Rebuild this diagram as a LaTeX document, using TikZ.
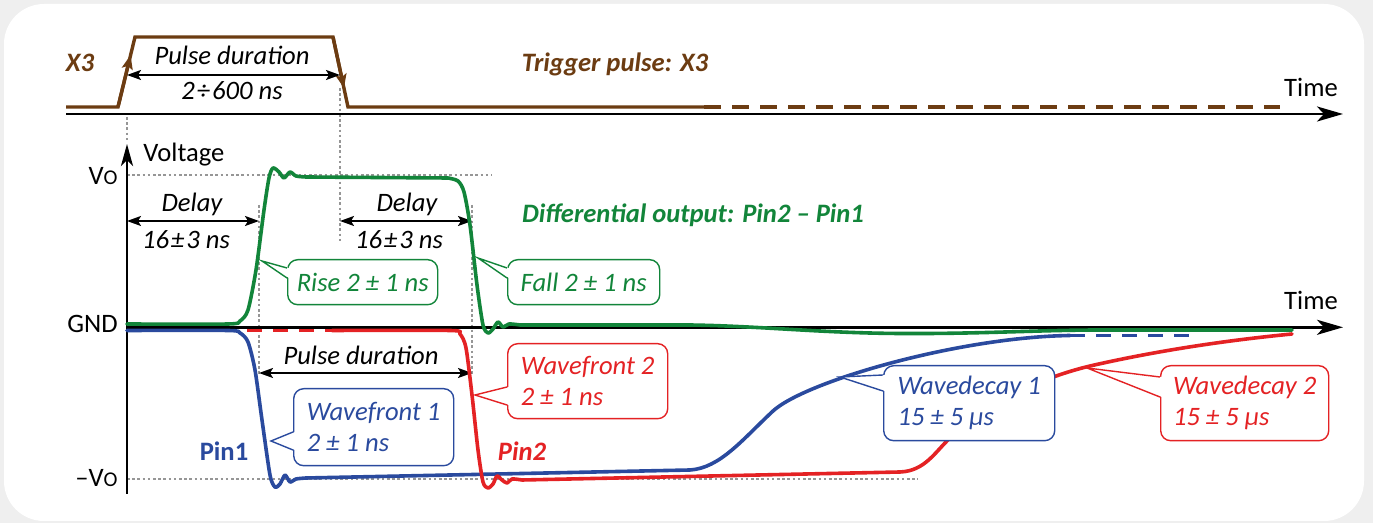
\documentclass[tikz,border=0pt]{standalone}
\usepackage{fontspec}
\setmainfont{Carlito}
\usetikzlibrary{arrows.meta,calc}

\definecolor{bggray}{RGB}{239,239,239}
\definecolor{trigbrown}{RGB}{108,60,18}
\definecolor{diffgreen}{RGB}{18,133,58}
\definecolor{pinred}{RGB}{228,34,36}
\definecolor{pinblue}{RGB}{42,74,158}
\definecolor{guidegray}{RGB}{150,150,150}

\tikzset{
  axisline/.style={line width=1.4pt},
  timeaxis/.style={axisline,-{Stealth[length=13pt,width=7.5pt,inset=3.5pt]}},
  voltaxis/.style={axisline,-{Stealth[length=11pt,width=6pt,inset=3pt]}},
  trace/.style={line width=1.8pt,line join=round,line cap=round},
  tracedash/.style={line width=1.8pt,dash pattern=on 7.5pt off 5.5pt},
  pulse/.style={trigbrown,line width=1.7pt,line join=miter},
  edgetip/.style={pulse,-{Stealth[length=7pt,width=5.5pt,inset=1.5pt]}},
  guide/.style={guidegray,line width=0.55pt,dash pattern=on 1.3pt off 1.3pt},
  dimarrow/.style={line width=0.9pt,{Stealth[length=7pt,width=5pt,inset=1.5pt]}-{Stealth[length=7pt,width=5pt,inset=1.5pt]}},
  axislbl/.style={font=\fontsize{13.3}{15}\selectfont,inner sep=0pt},
  dimlbl/.style={font=\fontsize{13.3}{15}\selectfont\itshape,inner sep=0pt,anchor=base},
  titlelbl/.style={font=\fontsize{13.3}{15}\selectfont\bfseries\itshape,inner sep=0pt,anchor=base},
  callbox/.style={fill=white,line width=0.7pt,rounded corners=5pt,anchor=north west,
    align=left,inner sep=0pt,font=\fontsize{13.3}{15.5}\selectfont\itshape},
  calltail/.style={line width=0.7pt,line join=miter},
}

\begin{document}
\begin{tikzpicture}[x=0.5pt,y=-0.5pt]
% background
\useasboundingbox (0,0) rectangle (1373,523);
\fill[bggray] (0,0) rectangle (1373,523);
\fill[white,rounded corners=20pt] (4,4) rectangle (1364,521);

% guide lines
\draw[guide] (127,117) -- (127,140);
\draw[guide] (340,88) -- (340,242);
\draw[guide] (259,205) -- (259,375);
\draw[guide] (472,205) -- (472,375);
\draw[guide] (127,175) -- (492,175);
\draw[guide] (127,479) -- (918,479);

% axes
\coordinate (taxisL) at (66,114);
\coordinate (taxisR) at (1343,114);
\coordinate (vaxisB) at (127,494);
\coordinate (vaxisT) at (127,144);
\coordinate (gaxisL) at (127,327.3);
\coordinate (gaxisR) at (1343,327.3);
\draw[timeaxis] (taxisL) -- (taxisR);
\draw[voltaxis] (vaxisB) -- (vaxisT);
\draw[timeaxis] (gaxisL) -- (gaxisR);

\node[axislbl,anchor=base] (time1) at (1311,97) {Time};
\node[axislbl,anchor=base] (time2) at (1311,310) {Time};
\node[axislbl,anchor=base west] (volt) at (143,162) {Voltage};
\node[axislbl,anchor=base east] (vo) at (118,185) {V{\fontsize{10.5}{10}\selectfont O}};
\node[axislbl,anchor=base east] (gnd) at (118,333) {GND};
\node[axislbl,anchor=base east] (minvo) at (118,487) {–V{\fontsize{10.5}{10}\selectfont O}};

% trigger pulse
\coordinate (trA) at (66,107);
\coordinate (trB) at (118,107);
\coordinate (trC) at (135,37);
\coordinate (trD) at (333,37);
\coordinate (trE) at (348,107);
\coordinate (trF) at (704,107);
\coordinate (trG) at (1280,107);
\draw[pulse] (trA) -- (trB) -- (trC) -- (trD) -- (trE) -- (trF);
\draw[pulse,dash pattern=on 8.5pt off 5.5pt] (trF) -- (trG);
\draw[edgetip] (trB) -- ($(trB)!0.74!(trC)$);
\draw[edgetip] (trD) -- ($(trD)!0.73!(trE)$);

\node[titlelbl,trigbrown] (x3) at (80,72) {X3};
\node[titlelbl,trigbrown] (trig) at (615,72) {Trigger pulse: X3};

% dimensions
\coordinate (pdL) at (127,75);
\coordinate (pdR) at (340,75);
\draw[dimarrow] (pdL) -- (pdR);
\node[dimlbl] (pd) at (232,65) {Pulse duration};
\node[dimlbl] (pdval) at (232,100) {2\kern1pt÷\kern1pt600 ns};

\coordinate (dl1L) at (127,221);
\coordinate (dl1R) at (259,221);
\draw[dimarrow] (dl1L) -- (dl1R);
\node[dimlbl] (dl1) at (192,212) {Delay};
\node[dimlbl] (dl1val) at (186,249) {16\kern1pt±\kern1pt3 ns};

\coordinate (dl2L) at (340,221);
\coordinate (dl2R) at (472,221);
\draw[dimarrow] (dl2L) -- (dl2R);
\node[dimlbl] (dl2) at (407,212) {Delay};
\node[dimlbl] (dl2val) at (399,249) {16\kern1pt±\kern1pt3 ns};

\coordinate (pwL) at (259,373);
\coordinate (pwR) at (472,373);
\draw[dimarrow] (pwL) -- (pwR);
\node[dimlbl] (pw) at (361,365) {Pulse duration};

% Pin1
\draw[trace,pinblue] plot[smooth,tension=0.45] coordinates {(127,330.5) (228,330.5) (240,333) (248,342)
  (255,370) (262,420) (270,475) (275,487) (280,484) (285,475) (290,482) (296,479) (306,478)}
  -- (690,470) .. controls (720,468) and (742,440) .. (773,411)
  .. controls (806,381) and (960,337) .. (1070,335.5);
\draw[tracedash,pinblue] (1070,335.5) -- (1197,335.5);

% Pin2
\draw[tracedash,pinred] (247,330.5) -- (332,330.5);
\draw[trace,pinred] plot[smooth,tension=0.45] coordinates {(332,330.5) (450,330.5) (460,334) (466,348)
  (472,395) (478,450) (483,482) (488,488) (493,484) (497,476) (502,480) (507,483) (512,479) (522,480)}
  -- (900,472) .. controls (925,471) and (935,452) .. (950,438)
  .. controls (990,402) and (1040,378) .. (1090,366)
  .. controls (1160,350) and (1230,340) .. (1292,334);

% differential output
\draw[trace,diffgreen] plot[smooth,tension=0.45] coordinates {(127,324) (228,324) (240,321) (248,310)
  (256,270) (264,210) (269,178) (273,168) (279,172) (284,178) (290,172) (296,176) (306,177)}
  -- plot[smooth,tension=0.45] coordinates {(448,178) (458,181) (464,192) (470,225) (477,285) (483,325)
  (488,333) (493,329) (498,322) (503,327) (509,324) (520,325)}
  -- (690,325) .. controls (760,326) and (820,333) .. (900,333.5)
  .. controls (980,334) and (1040,330) .. (1100,330) -- (1292,330);

\node[titlelbl,diffgreen] (diff) at (693,223) {Differential output: Pin2 – Pin1};
\node[titlelbl,font=\fontsize{13.3}{15}\selectfont\bfseries,pinblue] (pin1) at (224,461) {Pin1};
\node[titlelbl,pinred] (pin2) at (522,461) {Pin2};

% callouts
\node[callbox,draw=diffgreen,text=diffgreen,minimum width=75pt,minimum height=22.5pt] (rise) at (287,259) {Rise 2 ± 1 ns};
\coordinate (riseTip) at (262,261);
\fill[white] (riseTip) -- ($(rise.north west)+(2,9)$) -- ($(rise.north west)+(2,19)$) -- cycle;
\draw[calltail,diffgreen] ($(rise.north west)+(0,9)$) -- (riseTip) -- ($(rise.north west)+(0,19)$);

\node[callbox,draw=diffgreen,text=diffgreen,minimum width=76pt,minimum height=22.5pt] (fall) at (507,259) {Fall 2 ± 1 ns};
\coordinate (fallTip) at (478,258);
\fill[white] (fallTip) -- ($(fall.north west)+(2,9)$) -- ($(fall.north west)+(2,19)$) -- cycle;
\draw[calltail,diffgreen] ($(fall.north west)+(0,9)$) -- (fallTip) -- ($(fall.north west)+(0,19)$);

\node[callbox,draw=pinblue,text=pinblue,minimum width=80pt,minimum height=38.5pt] (wf1) at (293,388) {Wavefront 1\\2 ± 1 ns};
\coordinate (wf1Tip) at (271,441);
\fill[white] (wf1Tip) -- ($(wf1.north west)+(2,44)$) -- ($(wf1.north west)+(2,62)$) -- cycle;
\draw[calltail,pinblue] ($(wf1.north west)+(0,44)$) -- (wf1Tip) -- ($(wf1.north west)+(0,62)$);

\node[callbox,draw=pinred,text=pinred,minimum width=80pt,minimum height=37.5pt] (wf2) at (507,343) {Wavefront 2\\2 ± 1 ns};
\coordinate (wf2Tip) at (475,395);
\fill[white] (wf2Tip) -- ($(wf2.north west)+(2,44)$) -- ($(wf2.north west)+(2,62)$) -- cycle;
\draw[calltail,pinred] ($(wf2.north west)+(0,44)$) -- (wf2Tip) -- ($(wf2.north west)+(0,62)$);

\node[callbox,draw=pinblue,text=pinblue,minimum width=85.5pt,minimum height=37.5pt] (wd1) at (883,365) {Wavedecay 1\\15 ± 5 µs};
\coordinate (wd1Tip) at (840,377);
\fill[white] (wd1Tip) -- ($(wd1.north west)+(2,10)$) -- ($(wd1.north west)+(2,26)$) -- cycle;
\draw[calltail,pinblue] ($(wd1.north west)+(0,10)$) -- (wd1Tip) -- ($(wd1.north west)+(0,26)$);

\node[callbox,draw=pinred,text=pinred,minimum width=84pt,minimum height=37.5pt] (wd2) at (1160,365) {Wavedecay 2\\15 ± 5 µs};
\coordinate (wd2Tip) at (1087,368);
\fill[white] (wd2Tip) -- ($(wd2.north west)+(2,12)$) -- ($(wd2.north west)+(2,32)$) -- cycle;
\draw[calltail,pinred] ($(wd2.north west)+(0,12)$) -- (wd2Tip) -- ($(wd2.north west)+(0,32)$);
\end{tikzpicture}
\end{document}
